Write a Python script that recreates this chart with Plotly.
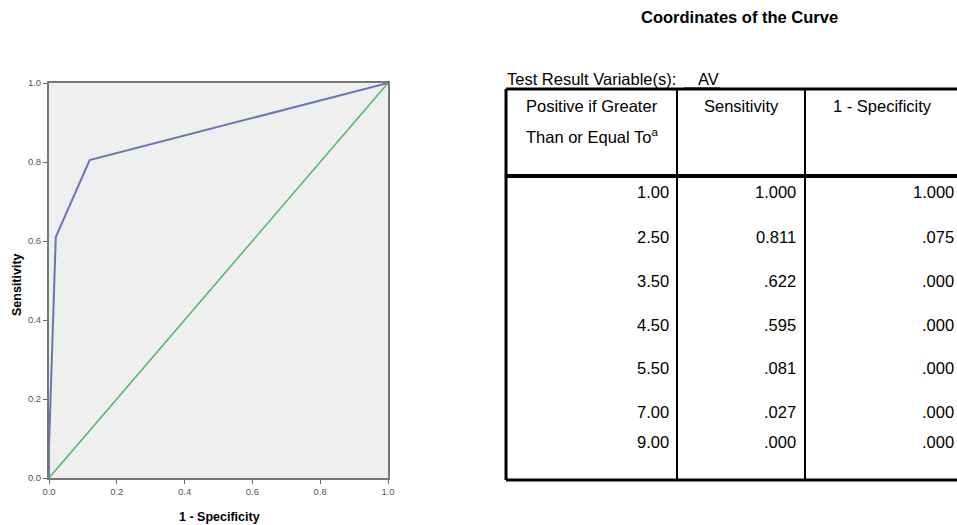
import plotly.graph_objects as go

# ---- data ----
roc_fpr = [0.0, 0.0, 0.02, 0.12, 1.0]
roc_tpr = [0.0, 0.08, 0.61, 0.805, 1.0]
ref_x = [0.0, 1.0]
ref_y = [0.0, 1.0]
tick_vals = [0.0, 0.2, 0.4, 0.6, 0.8, 1.0]
tick_text = ["0.0", "0.2", "0.4", "0.6", "0.8", "1.0"]

thresholds = ["1.00", "2.50", "3.50", "4.50", "5.50", "7.00", "9.00"]
sensitivity = ["1.000", "0.811", ".622", ".595", ".081", ".027", ".000"]
one_minus_spec = ["1.000", ".075", ".000", ".000", ".000", ".000", ".000"]
headers = [["Positive if Greater", "Than or Equal To<sup>a</sup>"], ["Sensitivity"], ["1 - Specificity"]]
table_title = "Coordinates of the Curve"
variable_label = "Test Result Variable(s):"
variable_name = "AV"

W, H = 957, 525


def px(x):
    return x / W


def py(y):
    return 1 - y / H


fig = go.Figure()
fig.add_trace(go.Scatter(x=roc_fpr, y=roc_tpr, mode="lines",
                         line=dict(color="#6a76b0", width=2), hoverinfo="skip"))
fig.add_trace(go.Scatter(x=ref_x, y=ref_y, mode="lines",
                         line=dict(color="#4fb866", width=1.5), hoverinfo="skip"))

axis_common = dict(range=[0, 1], tickvals=tick_vals, ticktext=tick_text,
                   ticks="outside", ticklen=4, tickcolor="#666", tickwidth=1,
                   showgrid=False, zeroline=False, showline=True, linecolor="#777",
                   linewidth=2, mirror=True, automargin=False,
                   tickfont=dict(family="Arial, Liberation Sans", size=9.5, color="#555"))

fig.update_layout(
    width=W, height=H, showlegend=False,
    paper_bgcolor="white", plot_bgcolor="#efefef",
    margin=dict(l=0, r=0, t=0, b=0, pad=0, autoexpand=False),
    xaxis=dict(domain=[px(49), px(388)], **axis_common),
    yaxis=dict(domain=[py(478), py(83)], **axis_common),
)

font = dict(family="Arial, Liberation Sans", size=16.5, color="black")
ann = []
shapes = []


def text(x, y, t, f, xanchor="center", **kw):
    ann.append(dict(x=px(x), y=py(y), xref="paper", yref="paper", text=t, showarrow=False,
                    xanchor=xanchor, yanchor="middle", font=f, **kw))


# axis titles
small_bold = dict(family="Arial, Liberation Sans", size=12.5, color="black")
text(219, 517, "<b>1 - Specificity</b>", small_bold)
text(17, 285, "<b>Sensitivity</b>", small_bold, textangle=-90)

# table title
text(739, 17, "<b>" + table_title + "</b>", dict(family="Arial, Liberation Sans", size=16.5, color="black"))
text(505, 79, variable_label, font, xanchor="left")
text(696, 79, variable_name, font, xanchor="left")
shapes.append(dict(type="line", xref="paper", yref="paper", x0=px(684), x1=px(720),
                   y0=py(88), y1=py(88), line=dict(color="black", width=1)))

# table frame
left, c1, c2, right = 506, 677, 805, 960
top, hdr, bottom = 89, 176, 480


def hline(y, w):
    shapes.append(dict(type="line", xref="paper", yref="paper", x0=px(left), x1=px(right),
                       y0=py(y), y1=py(y), line=dict(color="black", width=w)))


def vline(x, w):
    shapes.append(dict(type="line", xref="paper", yref="paper", x0=px(x), x1=px(x),
                       y0=py(top), y1=py(bottom), line=dict(color="black", width=w)))


hline(top, 3)
hline(hdr, 4)
hline(bottom, 3)
vline(left, 3)
vline(c1, 2)
vline(c2, 2)

# headers
col_centers = [592, 741, 882]
for cc, lines in zip(col_centers, headers):
    for i, t in enumerate(lines):
        text(cc, 106 + 30 * i, t, font)

# rows
row_y = [192, 237, 281, 325, 368, 412, 442]
col_right = [671, 798, 956]
for ry, a, b, c in zip(row_y, thresholds, sensitivity, one_minus_spec):
    for xr, t in zip(col_right, (a, b, c)):
        text(xr, ry, t, font, xanchor="right")

fig.update_layout(annotations=ann, shapes=shapes)
fig.write_html("out.html", config={"displayModeBar": False},
               post_script="document.body.style.margin='0';document.body.style.overflow='hidden';")
